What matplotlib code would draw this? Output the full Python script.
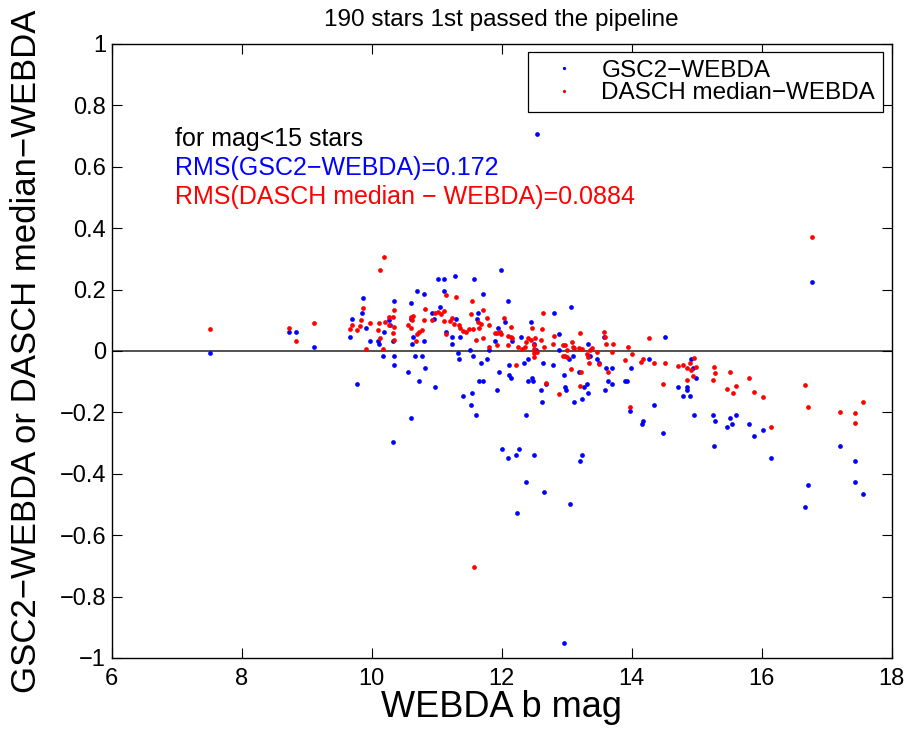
import matplotlib
matplotlib.use("Agg")
import matplotlib.pyplot as plt
import numpy as np

plt.rcParams['font.family'] = ['Liberation Sans', 'DejaVu Sans']

# GSC2 - WEBDA (blue)
gsc_x = [7.51, 8.73, 8.83, 9.12, 9.67, 9.70, 9.78, 9.85, 9.87, 9.92, 9.98, 10.09, 10.12, 10.17,
         10.19, 10.26, 10.28, 10.33, 10.34, 10.33, 10.35, 10.34, 10.56, 10.61, 10.61, 10.64, 10.62,
         10.67, 10.69, 10.73, 10.78, 10.80, 10.81, 10.82, 10.61, 10.93, 10.96, 10.97, 11.02, 11.12,
         11.11, 11.28, 11.05, 11.15, 11.24, 11.23, 11.29, 11.33, 11.34, 11.36, 11.40, 11.51, 11.54,
         11.53, 11.60, 11.56, 11.58, 11.62, 11.64, 11.65, 11.68, 11.71, 11.71, 11.77, 11.81, 11.94,
         11.90, 11.96, 11.93, 11.99, 12.05, 12.10, 12.12, 12.11, 12.15, 12.16, 12.00, 12.10, 12.22,
         12.26, 12.24, 12.30, 12.34, 12.37, 12.38, 12.41, 12.41, 12.45, 12.47, 12.48, 12.49, 12.49,
         12.53, 12.54, 12.61, 12.62, 12.63, 12.65, 12.68, 12.79, 12.81, 12.88, 12.88, 12.96, 12.96,
         12.98, 12.99, 13.03, 13.05, 13.07, 13.09, 13.11, 13.19, 13.21, 13.24, 13.24, 13.26, 13.31,
         13.33, 13.33, 13.36, 13.46, 13.50, 13.57, 13.60, 13.70, 13.99, 13.64, 13.70, 13.59, 13.89,
         13.93, 13.97, 14.16, 14.17, 14.27, 14.34, 14.48, 14.52, 14.72, 14.79, 14.85, 14.85, 14.90,
         14.91, 14.95, 14.96, 14.99, 15.25, 15.28, 15.26, 15.46, 15.51, 15.55, 15.61, 15.81, 15.88,
         16.02, 16.14, 16.67, 16.71, 16.77, 17.21, 17.43, 17.43, 17.56]
gsc_y = [-0.006, 0.063, 0.063, 0.013, 0.044, 0.104, -0.106, 0.123, 0.173, 0.074, 0.033, 0.032, 0.022, -0.017,
         0.063, 0.102, 0.083, -0.297, 0.164, 0.033, -0.017, -0.047, -0.067, 0.155, 0.104, 0.044, 0.023,
         -0.017, 0.195, -0.097, -0.017, 0.184, 0.033, -0.057, -0.218, 0.124, 0.104, -0.118, 0.233, 0.233,
         0.195, 0.244, 0.144, 0.063, 0.044, 0.023, 0.104, -0.007, -0.027, 0.044, -0.147, 0.003, -0.138,
         -0.177, -0.207, -0.017, 0.233, 0.104, 0.123, -0.097, -0.038, -0.097, 0.184, -0.027, 0.003, 0.074,
         0.033, -0.067, -0.128, 0.264, 0.093, 0.164, -0.047, -0.078, -0.088, 0.033, -0.318, -0.348, -0.338,
         -0.318, -0.528, 0.044, -0.038, -0.207, -0.427, -0.027, -0.097, 0.093, -0.088, -0.097, 0.023, -0.338,
         0.003, 0.705, -0.128, -0.167, -0.038, -0.458, -0.107, -0.047, 0.123, 0.054, 0.003, -0.078, -0.950,
         -0.118, -0.128, -0.027, -0.498, 0.144, -0.017, -0.167, -0.067, -0.358, -0.158, -0.338, -0.118, -0.107,
         -0.138, 0.023, -0.017, -0.027, -0.038, 0.044, -0.057, -0.057, -0.057, -0.097, -0.107, -0.128, -0.097,
         -0.097, -0.197, -0.237, -0.227, -0.027, -0.176, -0.268, 0.044, -0.118, -0.147, -0.118, -0.128, -0.147,
         -0.027, -0.057, -0.207, -0.088, -0.207, -0.227, -0.308, -0.247, -0.218, -0.237, -0.207, -0.237, -0.277,
         -0.258, -0.348, -0.508, -0.437, 0.224, -0.308, -0.358, -0.427, -0.467]

# DASCH median - WEBDA (red)
dasch_x = [7.51, 8.73, 8.83, 9.12, 9.67, 9.70, 9.78, 9.82, 9.84, 9.87, 9.92, 9.98, 10.09, 10.11, 10.13,
           10.13, 10.17, 10.19, 10.21, 10.26, 10.27, 10.33, 10.35, 10.34, 10.33, 10.34, 10.56, 10.60,
           10.64, 10.61, 10.62, 10.68, 10.69, 10.73, 10.78, 10.80, 10.82, 10.93, 10.97, 11.02, 11.06,
           11.11, 11.12, 11.15, 11.15, 11.20, 11.23, 11.27, 11.29, 11.34, 11.36, 11.40, 11.45, 11.50,
           11.53, 11.54, 11.56, 11.58, 11.60, 11.63, 11.65, 11.68, 11.71, 11.71, 11.77, 11.81, 11.81,
           11.90, 11.93, 11.93, 11.97, 11.99, 12.04, 12.09, 12.10, 12.14, 12.15, 12.16, 12.22, 12.25,
           12.31, 12.36, 12.37, 12.41, 12.45, 12.47, 12.49, 12.49, 12.50, 12.50, 12.52, 12.54, 12.61,
           12.62, 12.64, 12.65, 12.68, 12.79, 12.81, 12.88, 12.95, 12.95, 12.97, 12.98, 13.00, 13.01,
           13.06, 13.08, 13.09, 13.12, 13.19, 13.20, 13.21, 13.22, 13.24, 13.32, 13.33, 13.34, 13.36,
           13.39, 13.50, 13.46, 13.57, 13.59, 13.60, 13.71, 13.64, 13.70, 13.90, 13.94, 14.00, 13.97,
           14.15, 14.17, 14.26, 14.34, 14.48, 14.52, 14.72, 14.79, 14.85, 14.85, 14.90, 14.91, 14.95,
           14.96, 14.99, 15.25, 15.26, 15.28, 15.46, 15.51, 15.56, 15.61, 15.81, 15.88, 16.02, 16.14,
           16.67, 16.71, 16.77, 17.21, 17.43, 17.44, 17.56]
dasch_y = [0.072, 0.074, 0.031, 0.092, 0.072, 0.086, 0.069, 0.081, 0.101, 0.140, 0.005, 0.092, 0.067, 0.092, 0.041,
           0.264, 0.005, 0.305, 0.093, 0.111, 0.083, 0.109, 0.133, 0.077, 0.057, 0.035, 0.085, 0.111,
           0.115, 0.074, 0.100, 0.031, 0.054, 0.063, 0.068, 0.101, 0.137, 0.101, 0.124, 0.128, 0.120,
           0.130, 0.098, 0.181, 0.055, 0.096, 0.106, 0.089, 0.177, 0.083, 0.074, 0.064, 0.062, 0.070,
           0.119, 0.163, 0.073, -0.704, 0.035, 0.094, 0.074, 0.089, 0.133, 0.042, 0.107, 0.086, 0.013,
           0.057, 0.059, 0.019, 0.061, 0.054, 0.107, 0.020, 0.050, 0.047, 0.078, 0.042, -0.045, 0.012,
           0.008, 0.012, 0.029, 0.042, 0.037, 0.075, 0.007, -0.019, 0.018, -0.006, 0.043, -0.004, 0.035,
           0.072, 0.122, 0.013, -0.103, 0.022, 0.048, -0.139, 0.018, -0.015, -0.017, 0.019, -0.019, 0.003,
           -0.059, 0.030, 0.012, 0.010, 0.010, 0.059, -0.115, -0.070, 0.005, -0.010, -0.021, -0.040, 0.003,
           0.009, -0.044, -0.003, 0.062, 0.047, 0.022, 0.024, -0.067, -0.004, -0.029, 0.012, -0.011, -0.182,
           -0.037, -0.027, 0.041, -0.040, -0.108, -0.038, -0.048, -0.046, -0.057, -0.095, -0.040, -0.063, -0.081,
           -0.024, -0.053, -0.094, -0.051, -0.071, -0.124, -0.069, -0.137, -0.114, -0.088, -0.134, -0.149, -0.247,
           -0.112, -0.183, 0.371, -0.198, -0.201, -0.235, -0.167]

x_ticks = [6, 8, 10, 12, 14, 16, 18]
y_ticks = [-1, -0.8, -0.6, -0.4, -0.2, 0, 0.2, 0.4, 0.6, 0.8, 1]
y_tick_labels = ['\u22121', '\u22120.8', '\u22120.6', '\u22120.4', '\u22120.2', '0',
                 '0.2', '0.4', '0.6', '0.8', '1']

fig = plt.figure(figsize=(9.09, 7.32), dpi=100)
ax = fig.add_axes([0.1229, 0.1011, 0.858, 0.8389])

ax.plot(gsc_x, gsc_y, linestyle='none', marker='o', markersize=3.4, color='#0000ff',
        markeredgewidth=0, label='GSC2\u2212WEBDA')
ax.plot(dasch_x, dasch_y, linestyle='none', marker='o', markersize=3.4, color='#ff0000',
        markeredgewidth=0, label='DASCH median\u2212WEBDA')
ax.axhline(0, color='#222222', linewidth=1.1, zorder=0)

ax.set_xlim(6, 18)
ax.set_ylim(-1, 1)
ax.set_xticks(x_ticks)
ax.set_yticks(y_ticks)
ax.set_xticklabels([str(t) for t in x_ticks])
ax.set_yticklabels(y_tick_labels)
ax.tick_params(direction='in', top=True, right=True, length=7, width=0.8, labelsize=17)
ax.tick_params(axis='x', pad=7)
ax.tick_params(axis='y', pad=4)
for s in ax.spines.values():
    s.set_linewidth(1.0)

ax.set_xlabel('WEBDA b mag', fontsize=26, labelpad=0)
ax.set_ylabel('GSC2\u2212WEBDA or DASCH median\u2212WEBDA', fontsize=25, labelpad=12)
ax.set_title('190 stars 1st passed the pipeline', fontsize=17.5, pad=13)

ax.text(6.97, 0.689, 'for mag<15 stars', color='black', fontsize=18, va='center')
ax.text(6.97, 0.597, 'RMS(GSC2\u2212WEBDA)=0.172', color='#0000ff', fontsize=18, va='center')
ax.text(6.97, 0.503, 'RMS(DASCH median \u2212 WEBDA)=0.0884', color='#ff0000', fontsize=18, va='center')

leg = ax.legend(loc='upper right', bbox_to_anchor=(0.9888, 0.987), fontsize=17.5,
                frameon=True, fancybox=False, edgecolor='black', framealpha=1,
                borderaxespad=0, handlelength=2.3, handletextpad=0.4, borderpad=0.32,
                labelspacing=0.02, markerscale=0.7)
leg.get_frame().set_linewidth(0.9)

fig.savefig('out.png', dpi=100)
